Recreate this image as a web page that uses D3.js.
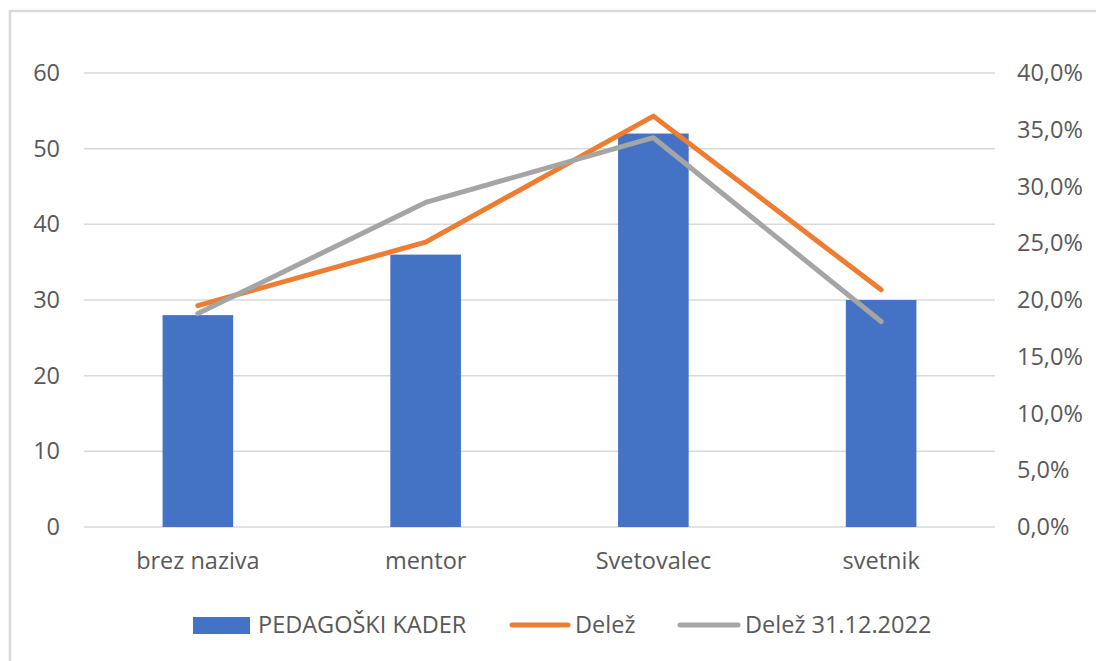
<!DOCTYPE html>
<html><head><meta charset="utf-8">
<script src="https://cdn.jsdelivr.net/npm/d3@7"></script>
<style>body{margin:0;background:#fff}svg{display:block}text{font-family:"Open Sans",sans-serif;fill:#595959}</style>
</head><body><svg id="c" width="1096" height="661"></svg>
<script>
const categories = ["brez naziva","mentor","Svetovalec","svetnik"];
const kader = [28,36,52,30];
const delez = [19.5,25.1,36.2,20.9];
const delez2022 = [18.8,28.6,34.3,18.1];
const leftTicks = [0,10,20,30,40,50,60];
const rightTicks = [0,5,10,15,20,25,30,35,40];
const seriesNames = ["PEDAGOŠKI KADER","Delež","Delež 31.12.2022"];
const colors = {bar:"#4472c4",delez:"#ed7d31",delez2022:"#a5a5a5"};
const FS = "23.5px";
const FF = "'Open Sans'";

const svg = d3.select("#c");
svg.append("path").attr("d","M10,661 L10,11 L1096,11").attr("fill","none").attr("stroke","#d9d9d9").attr("stroke-width",2.5);

const L=84,R=995,T=73,B=527;
const x = d3.scaleBand().domain(categories).range([L,R]).paddingInner(0.69).paddingOuter(0.345);
const yL = d3.scaleLinear().domain([0,60]).range([B,T]);
const yR = d3.scaleLinear().domain([0,40]).range([B,T]);

svg.append("g").selectAll("line").data(leftTicks).join("line")
  .attr("x1",L).attr("x2",R).attr("y1",d=>yL(d)).attr("y2",d=>yL(d))
  .attr("stroke","#d9d9d9").attr("stroke-width",1.5);

function style(g){
  g.select(".domain").remove();
  g.selectAll("text").style("font-size",FS).attr("fill","#595959").style("font-family",FF);
}
const ga = svg.append("g").attr("transform",`translate(${L},0)`)
  .call(d3.axisLeft(yL).tickValues(leftTicks).tickSize(0).tickPadding(24));
style(ga);

const gr = svg.append("g").attr("transform",`translate(${R},0)`)
  .call(d3.axisRight(yR).tickValues(rightTicks).tickSize(0).tickPadding(22).tickFormat(d=>d.toFixed(1).replace(".",",")+"%"));
style(gr);

const gb = svg.append("g").attr("transform",`translate(0,${B})`)
  .call(d3.axisBottom(x).tickSize(0).tickPadding(25));
style(gb);

svg.append("g").selectAll("rect").data(kader).join("rect")
  .attr("x",(d,i)=>x(categories[i])).attr("width",x.bandwidth())
  .attr("y",d=>yL(d)).attr("height",d=>B-yL(d)).attr("fill",colors.bar);

const line = d3.line().x((d,i)=>x(categories[i])+x.bandwidth()/2).y(d=>yR(d));
svg.append("path").datum(delez).attr("d",line).attr("fill","none").attr("stroke",colors.delez)
  .attr("stroke-width",5).attr("stroke-linecap","round").attr("stroke-linejoin","round");
svg.append("path").datum(delez2022).attr("d",line).attr("fill","none").attr("stroke",colors.delez2022)
  .attr("stroke-width",5).attr("stroke-linecap","round").attr("stroke-linejoin","round");

const lg = svg.append("g");
const ly = 625;
lg.append("rect").attr("x",193).attr("y",ly-8).attr("width",57).attr("height",17).attr("fill",colors.bar);
lg.append("text").attr("x",258).attr("y",ly).attr("dy","0.35em").style("font-size",FS).style("font-family",FF).text(seriesNames[0]);
lg.append("line").attr("x1",512).attr("x2",568).attr("y1",ly).attr("y2",ly).attr("stroke",colors.delez).attr("stroke-width",5).attr("stroke-linecap","round");
lg.append("text").attr("x",575).attr("y",ly).attr("dy","0.35em").style("font-size",FS).style("font-family",FF).text(seriesNames[1]);
lg.append("line").attr("x1",680).attr("x2",738).attr("y1",ly).attr("y2",ly).attr("stroke",colors.delez2022).attr("stroke-width",5).attr("stroke-linecap","round");
lg.append("text").attr("x",745).attr("y",ly).attr("dy","0.35em").style("font-size",FS).style("font-family",FF).text(seriesNames[2]);
</script></body></html>
